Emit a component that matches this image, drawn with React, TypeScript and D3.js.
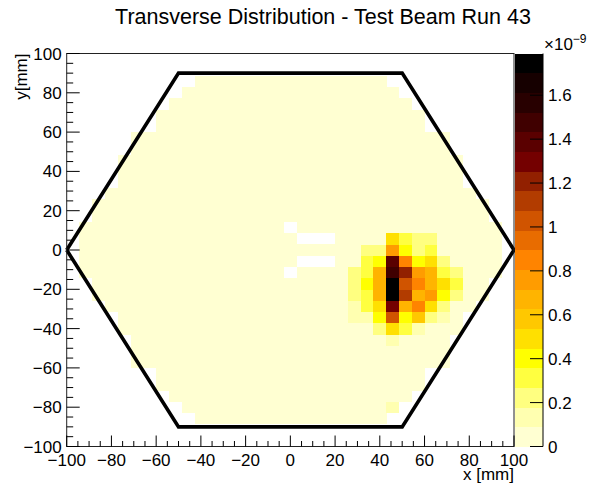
import React, { useEffect, useRef } from "react";
import * as d3 from "d3";

const W = 595;
const H = 485;
const nBins = 35;
const zMax = 1.79; // in units of 1e-9

// first filled x-bin of each row (row 0 = bottom), -1 = empty row; rows are mirrored left/right
const rowStart = [-1, -1, 10, 9, 8, 7, 7, 5, 5, 5, 4, 4, 3, 2, 2, 1, 1, 1, 1, 1, 2, 2, 3, 4, 4, 4, 5, 5, 7, 7, 8, 9, 10, -1, -1];
const bgLevel = 0.045;
// cells inside the hexagon with no entries
const emptyCells: [number, number][] = [
  [17, 19], [18, 18], [19, 18], [20, 18], [18, 16], [19, 16], [20, 16], [17, 15],
];
// the beam spot: row, first bin, values (x1e-9)
const hotRows: { row: number; start: number; values: number[] }[] = [
  { row: 18, start: 25, values: [0.49, 0.31, 0.22, 0.22] },
  { row: 17, start: 23, values: [0.22, 0.22, 0.76, 0.4, 0.22, 0.31] },
  { row: 16, start: 23, values: [0.31, 0.4, 1.39, 0.85, 0.4, 0.49, 0.22] },
  { row: 15, start: 22, values: [0.22, 0.31, 0.67, 1.48, 1.21, 0.76, 0.67, 0.31, 0.22] },
  { row: 14, start: 22, values: [0.22, 0.4, 0.67, 1.76, 1.03, 0.85, 0.67, 0.49, 0.31] },
  { row: 13, start: 22, values: [0.22, 0.31, 0.67, 1.74, 1.12, 0.67, 0.76, 0.4, 0.22] },
  { row: 12, start: 22, values: [0.13, 0.31, 0.49, 1.3, 0.67, 0.85, 0.49, 0.22] },
  { row: 11, start: 22, values: [0.13, 0.13, 0.4, 1.03, 0.4, 0.58, 0.22, 0.13] },
  { row: 10, start: 24, values: [0.22, 0.49, 0.31, 0.13] },
  { row: 9, start: 25, values: [0.13] },
];
const extraCells: [number, number, number][] = [[25, 3, 0.13]];

const palette = [
  "#ffffd2", "#ffffb0", "#ffff80", "#ffff40", "#ffff00",
  "#ffe000", "#ffc800", "#ffb400", "#ff9c00", "#ff8400",
  "#e86c00", "#d05400", "#b23c00", "#922000", "#740000",
  "#5a0000", "#400000", "#280000", "#160000", "#000000",
];

const axisTicks = d3.range(-100, 101, 20);
const minorTicks = d3.range(-100, 101, 5).filter((v) => v % 20 !== 0);
const zTicks = [0, 0.2, 0.4, 0.6, 0.8, 1, 1.2, 1.4, 1.6];
const hexagon: [number, number][] = [
  [-100, 0], [-50, 90], [50, 90], [100, 0], [50, -90], [-50, -90], [-100, 0],
];

const m = { left: 66.7, right: 514, top: 53.5, bottom: 446.5 };
const bar = { left: 515, right: 543 };
const font = "'Liberation Sans', Arial, Helvetica, sans-serif";
const fmt = (v: number) => (v < 0 ? "\u2212" + Math.abs(v) : String(v));

function buildCells() {
  const grid: number[][] = d3.range(nBins).map(() => d3.range(nBins).map(() => 0));
  rowStart.forEach((s, j) => {
    if (s < 0) return;
    for (let i = s; i <= nBins - 1 - s; i++) grid[j][i] = bgLevel;
  });
  emptyCells.forEach(([i, j]) => (grid[j][i] = 0));
  hotRows.forEach((r) => r.values.forEach((v, k) => (grid[r.row][r.start + k] = v)));
  extraCells.forEach(([i, j, v]) => (grid[j][i] = v));
  const cells: { i: number; j: number; v: number }[] = [];
  grid.forEach((row, j) => row.forEach((v, i) => v > 0 && cells.push({ i, j, v })));
  return cells;
}

const App = () => {
  const svgRef = useRef<SVGSVGElement | null>(null);

  useEffect(() => {
    const svg = d3.select(svgRef.current);
    svg.selectAll("*").remove();

    const x = d3.scaleLinear().domain([-100, 100]).range([m.left, m.right]);
    const y = d3.scaleLinear().domain([-100, 100]).range([m.bottom, m.top]);
    const z = d3.scaleLinear().domain([0, zMax]).range([m.bottom, m.top]);
    const edge = (i: number) => -100 + (i * 200) / nBins;
    const colorOf = (v: number) => palette[Math.min(palette.length - 1, Math.floor((v / zMax) * palette.length))];

    svg.append("rect").attr("width", W).attr("height", H).attr("fill", "white");

    // cells
    svg
      .append("g")
      .selectAll("rect")
      .data(buildCells())
      .enter()
      .append("rect")
      .attr("x", (d) => x(edge(d.i)))
      .attr("y", (d) => y(edge(d.j + 1)))
      .attr("width", x(edge(1)) - x(edge(0)) + 0.3)
      .attr("height", y(edge(0)) - y(edge(1)) + 0.3)
      .attr("fill", (d) => colorOf(d.v))
      .attr("shape-rendering", "crispEdges");

    // hexagon outline
    const line = d3.line<[number, number]>().x((d) => x(d[0])).y((d) => y(d[1]));
    svg
      .append("path")
      .attr("d", line(hexagon))
      .attr("fill", "none")
      .attr("stroke", "black")
      .attr("stroke-width", 3.6)
      .attr("stroke-linejoin", "miter");

    // frame
    svg
      .append("rect")
      .attr("x", m.left)
      .attr("y", m.top)
      .attr("width", m.right - m.left)
      .attr("height", m.bottom - m.top)
      .attr("fill", "none")
      .attr("stroke", "#222")
      .attr("stroke-width", 1);

    const ticks = svg.append("g").attr("stroke", "black").attr("stroke-width", 1);
    axisTicks.forEach((v) => {
      ticks.append("line").attr("x1", x(v)).attr("x2", x(v)).attr("y1", m.bottom).attr("y2", m.bottom - 11);
      ticks.append("line").attr("x1", m.left).attr("x2", m.left + 13).attr("y1", y(v)).attr("y2", y(v));
    });
    minorTicks.forEach((v) => {
      ticks.append("line").attr("x1", x(v)).attr("x2", x(v)).attr("y1", m.bottom).attr("y2", m.bottom - 5.5);
      ticks.append("line").attr("x1", m.left).attr("x2", m.left + 6.5).attr("y1", y(v)).attr("y2", y(v));
    });

    const labels = svg.append("g").attr("font-family", font).attr("font-size", 17).attr("fill", "black");
    axisTicks.forEach((v) => {
      labels.append("text").attr("x", x(v)).attr("y", m.bottom + 19).attr("text-anchor", "middle").text(fmt(v));
      labels
        .append("text")
        .attr("x", m.left - 5)
        .attr("y", y(v) + 6)
        .attr("text-anchor", "end")
        .text(fmt(v));
    });

    labels.append("text").attr("x", m.right).attr("y", 480).attr("text-anchor", "end").text("x [mm]");
    labels
      .append("text")
      .attr("transform", `translate(27, ${m.top}) rotate(-90)`)
      .attr("text-anchor", "end")
      .text("y[mm]");

    svg
      .append("text")
      .attr("x", 323)
      .attr("y", 24)
      .attr("text-anchor", "middle")
      .attr("font-family", font)
      .attr("font-size", 21.5)
      .text("Transverse Distribution - Test Beam Run 43");

    // colour bar
    const bh = (m.bottom - m.top) / palette.length;
    svg
      .append("g")
      .selectAll("rect")
      .data(palette)
      .enter()
      .append("rect")
      .attr("x", bar.left)
      .attr("y", (_, k) => m.bottom - (k + 1) * bh)
      .attr("width", bar.right - bar.left)
      .attr("height", bh + 0.3)
      .attr("fill", (d) => d)
      .attr("shape-rendering", "crispEdges");

    svg
      .append("line")
      .attr("x1", bar.right)
      .attr("x2", bar.right)
      .attr("y1", m.top)
      .attr("y2", m.bottom)
      .attr("stroke", "black");

    zTicks.forEach((v) => {
      svg
        .append("line")
        .attr("x1", bar.right)
        .attr("x2", bar.right - 13)
        .attr("y1", z(v))
        .attr("y2", z(v))
        .attr("stroke", "black");
      labels.append("text").attr("x", bar.right + 5).attr("y", z(v) + 6).text(String(v));
    });

    const exp = svg
      .append("text")
      .attr("x", 544)
      .attr("y", 50)
      .attr("font-family", font)
      .attr("font-size", 17);
    exp.append("tspan").text("\u00d710");
    exp.append("tspan").attr("dy", -7).attr("font-size", 12).text("\u22129");
  }, []);

  return (
    <svg
      ref={svgRef}
      width={W}
      height={H}
      style={{ position: "absolute", left: 0, top: 0 }}
    ></svg>
  );
};

export default App;
